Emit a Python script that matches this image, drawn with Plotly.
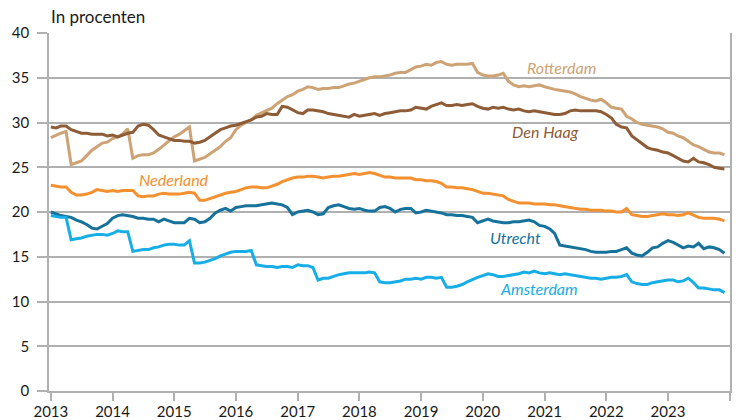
import pandas as pd
import plotly.graph_objects as go

# Monthly figures, Jan 2013 - Dec 2023 (in procenten)
months = pd.date_range("2013-01-01", "2023-12-01", freq="MS")

rotterdam = [
    28.3, 28.6, 28.8, 29.0, 25.3, 25.5, 25.7, 26.3, 26.9, 27.3, 27.7, 27.8,
    28.2, 28.4, 28.7, 29.3, 26.0, 26.3, 26.4, 26.4, 26.6, 27.0, 27.5, 28.0,
    28.4, 28.7, 29.1, 29.5, 25.7, 25.9, 26.1, 26.5, 26.9, 27.3, 27.9, 28.3,
    29.2, 29.7, 30.0, 30.3, 30.8, 31.1, 31.3, 31.6, 32.1, 32.5, 32.9, 33.1,
    33.5, 33.7, 34.0, 33.9, 33.7, 33.8, 33.8, 33.9, 33.9, 34.1, 34.3, 34.4,
    34.6, 34.8, 35.0, 35.1, 35.1, 35.2, 35.3, 35.5, 35.6, 35.6, 35.9, 36.2,
    36.3, 36.5, 36.4, 36.7, 36.8, 36.5, 36.4, 36.5, 36.5, 36.5, 36.6, 35.6,
    35.3, 35.2, 35.2, 35.3, 35.5, 34.6, 34.2, 34.0, 34.1, 34.0, 34.1, 34.2,
    34.0, 33.8, 33.7, 33.6, 33.5, 33.4, 33.2, 32.9, 32.7, 32.5, 32.4, 32.6,
    32.2, 31.7, 31.6, 31.5, 30.7, 30.4, 30.0, 29.8, 29.7, 29.6, 29.5, 29.3,
    28.9, 28.8, 28.5, 28.3, 27.9, 27.5, 27.3, 27.0, 26.7, 26.6, 26.6, 26.4,
]

den_haag = [
    29.5, 29.4, 29.6, 29.6, 29.2, 29.0, 28.8, 28.8, 28.7, 28.7, 28.7, 28.5,
    28.6, 28.4, 28.6, 28.8, 28.9, 29.6, 29.8, 29.7, 29.2, 28.6, 28.4, 28.2,
    28.0, 28.0, 27.9, 27.9, 27.7, 27.8, 28.0, 28.4, 28.8, 29.2, 29.4, 29.6,
    29.7, 29.9, 30.1, 30.3, 30.6, 30.7, 31.0, 30.9, 30.9, 31.8, 31.7, 31.4,
    31.1, 31.0, 31.4, 31.4, 31.3, 31.2, 31.0, 30.9, 30.8, 30.7, 30.6, 30.9,
    30.7, 30.8, 30.9, 31.0, 30.8, 31.0, 31.1, 31.2, 31.3, 31.3, 31.4, 31.7,
    31.6, 31.5, 31.8, 32.0, 32.2, 31.9, 31.9, 32.0, 31.9, 32.0, 32.1, 31.8,
    31.6, 31.5, 31.7, 31.6, 31.7, 31.5, 31.4, 31.5, 31.3, 31.2, 31.3, 31.2,
    31.1, 31.0, 30.9, 30.9, 31.0, 31.3, 31.4, 31.3, 31.3, 31.3, 31.3, 31.2,
    30.9, 30.5, 29.8, 29.5, 29.4, 28.5, 28.1, 27.6, 27.2, 27.0, 26.9, 26.7,
    26.6, 26.3, 26.0, 25.7, 25.6, 26.0, 25.6, 25.5, 25.3, 25.0, 24.9, 24.8,
]

nederland = [
    23.0, 22.9, 22.8, 22.8, 22.2, 21.9, 21.9, 22.0, 22.2, 22.5, 22.4, 22.3,
    22.4, 22.3, 22.4, 22.4, 22.4, 21.8, 21.7, 21.8, 21.8, 22.0, 22.1, 22.0,
    22.0, 22.0, 22.1, 22.2, 22.1, 21.3, 21.3, 21.5, 21.7, 21.9, 22.1, 22.2,
    22.3, 22.5, 22.7, 22.8, 22.8, 22.7, 22.7, 22.9, 23.1, 23.4, 23.6, 23.8,
    23.9, 23.9, 24.0, 24.0, 23.9, 23.8, 23.9, 24.0, 24.0, 24.1, 24.2, 24.3,
    24.2, 24.3, 24.4, 24.3, 24.1, 23.9, 23.9, 23.8, 23.8, 23.8, 23.8, 23.6,
    23.6, 23.5, 23.5, 23.4, 23.2, 22.8, 22.8, 22.7, 22.7, 22.6, 22.5, 22.3,
    22.1, 22.1, 22.0, 21.9, 21.8, 21.4, 21.2, 21.0, 21.0, 21.0, 20.9, 20.9,
    20.9, 20.8, 20.8, 20.7, 20.6, 20.5, 20.4, 20.3, 20.3, 20.2, 20.2, 20.2,
    20.1, 20.1, 20.0, 20.0, 20.4, 19.7, 19.6, 19.5, 19.5, 19.6, 19.7, 19.8,
    19.7, 19.7, 19.6, 19.7, 19.9, 19.6, 19.4, 19.3, 19.3, 19.3, 19.2, 19.0,
]

utrecht = [
    20.0, 19.8, 19.6, 19.5, 19.4, 19.1, 18.9, 18.6, 18.2, 18.1, 18.4, 18.7,
    19.3, 19.6, 19.7, 19.6, 19.5, 19.3, 19.3, 19.2, 19.2, 18.9, 19.2, 19.0,
    18.8, 18.8, 18.8, 19.3, 19.2, 18.8, 18.9, 19.3, 19.9, 20.2, 20.4, 20.1,
    20.5, 20.6, 20.7, 20.7, 20.7, 20.8, 20.9, 21.0, 20.9, 20.8, 20.5, 19.7,
    20.0, 20.1, 20.2, 20.0, 19.7, 19.8, 20.5, 20.7, 20.8, 20.6, 20.4, 20.3,
    20.4, 20.2, 20.1, 20.1, 20.5, 20.6, 20.4, 20.0, 20.3, 20.4, 20.4, 19.9,
    20.0, 20.2, 20.1, 20.0, 19.9, 19.7, 19.7, 19.6, 19.6, 19.5, 19.4, 18.8,
    19.0, 19.2, 19.0, 18.9, 18.8, 18.8, 18.9, 18.9, 19.0, 19.1, 18.9, 18.5,
    18.4, 18.1, 17.6, 16.3, 16.2, 16.1, 16.0, 15.9, 15.8, 15.6, 15.5, 15.5,
    15.5, 15.6, 15.6, 15.8, 16.0, 15.4, 15.2, 15.1, 15.5, 16.0, 16.1, 16.5,
    16.8, 16.6, 16.3, 16.0, 16.2, 16.1, 16.5, 15.9, 16.1, 16.0, 15.8, 15.4,
]

amsterdam = [
    19.6, 19.5, 19.4, 19.4, 16.9, 17.0, 17.1, 17.3, 17.4, 17.5, 17.5, 17.4,
    17.6, 17.9, 17.8, 17.8, 15.6, 15.7, 15.8, 15.8, 16.0, 16.1, 16.3, 16.4,
    16.4, 16.3, 16.3, 16.8, 14.3, 14.3, 14.4, 14.6, 14.8, 15.1, 15.3, 15.5,
    15.6, 15.6, 15.6, 15.7, 14.1, 14.0, 13.9, 13.9, 13.8, 13.9, 13.9, 13.8,
    14.1, 14.0, 14.0, 13.8, 12.4, 12.6, 12.6, 12.8, 13.0, 13.1, 13.2, 13.2,
    13.2, 13.2, 13.3, 13.2, 12.2, 12.1, 12.1, 12.2, 12.3, 12.5, 12.5, 12.6,
    12.5, 12.7, 12.7, 12.6, 12.7, 11.6, 11.6, 11.7, 11.9, 12.2, 12.5, 12.7,
    12.9, 13.1, 13.0, 12.8, 12.8, 12.9, 13.0, 13.1, 13.3, 13.2, 13.4, 13.2,
    13.1, 13.2, 13.1, 13.0, 13.1, 13.0, 12.9, 12.8, 12.7, 12.6, 12.6, 12.5,
    12.6, 12.7, 12.7, 12.8, 13.0, 12.2, 12.0, 11.9, 11.9, 12.1, 12.2, 12.3,
    12.4, 12.4, 12.2, 12.3, 12.6, 12.1, 11.5, 11.5, 11.4, 11.3, 11.3, 11.0,
]

years = [str(y) for y in range(2013, 2025)]
year_labels = [str(y) for y in range(2013, 2024)] + [""]

series = [
    ("Rotterdam", rotterdam, "#cda274"),
    ("Den Haag", den_haag, "#8e5c36"),
    ("Nederland", nederland, "#f39030"),
    ("Utrecht", utrecht, "#16719b"),
    ("Amsterdam", amsterdam, "#17ade6"),
]

# label anchor points (date, value) next to each line
label_pos = {
    "Rotterdam": ("2021-04-08", 36.2),
    "Den Haag": ("2021-01-05", 29.0),
    "Nederland": ("2015-01-01", 23.6),
    "Utrecht": ("2020-07-15", 17.1),
    "Amsterdam": ("2020-11-28", 11.5),
}

GRID = "#b0b0b0"
FONT = "Lato, 'Open Sans', sans-serif"

fig = go.Figure()
for name, vals, col in series:
    fig.add_trace(go.Scatter(
        x=months, y=vals, mode="lines", name=name,
        line=dict(color=col, width=3),
    ))
    lx, ly = label_pos[name]
    fig.add_annotation(
        x=lx, y=ly, text=f"<i>{name}</i>", showarrow=False,
        font=dict(color=col, size=16, family=FONT),
    )

fig.add_annotation(
    text="In procenten", xref="paper", yref="paper", x=0, y=1,
    xanchor="left", yanchor="bottom", yshift=4, showarrow=False,
    font=dict(size=17, family=FONT, color="#1a1a1a"),
)

fig.update_layout(
    width=739, height=420,
    paper_bgcolor="white", plot_bgcolor="white",
    margin=dict(l=49, r=9, t=33, b=29, autoexpand=False),
    showlegend=False,
    font=dict(family=FONT, color="#1a1a1a", size=15),
)

fig.update_xaxes(
    range=["2012-12-21", "2024-01-03"], automargin=False,
    tickvals=[f"{y}-01-01" for y in years], ticktext=year_labels,
    showgrid=False, showline=True, linecolor=GRID, linewidth=1.5,
    ticks="outside", ticklen=8, tickcolor=GRID, tickwidth=1.5,
    ticklabelstandoff=-2, tickfont=dict(size=15), zeroline=False,
)
fig.update_yaxes(
    range=[0, 40], dtick=5, automargin=False,
    showgrid=True, gridcolor=GRID, gridwidth=1.5,
    showline=True, linecolor=GRID, linewidth=1.5, mirror=True,
    ticks="outside", ticklen=10, tickcolor=GRID, tickwidth=1.5,
    ticklabelstandoff=5, tickfont=dict(size=15), zeroline=False,
)

# drop the default page margin so the chart sits at the window's corner
fig.write_html(
    "out.html",
    config={"displayModeBar": False},
    post_script="document.body.style.margin='0';",
)
